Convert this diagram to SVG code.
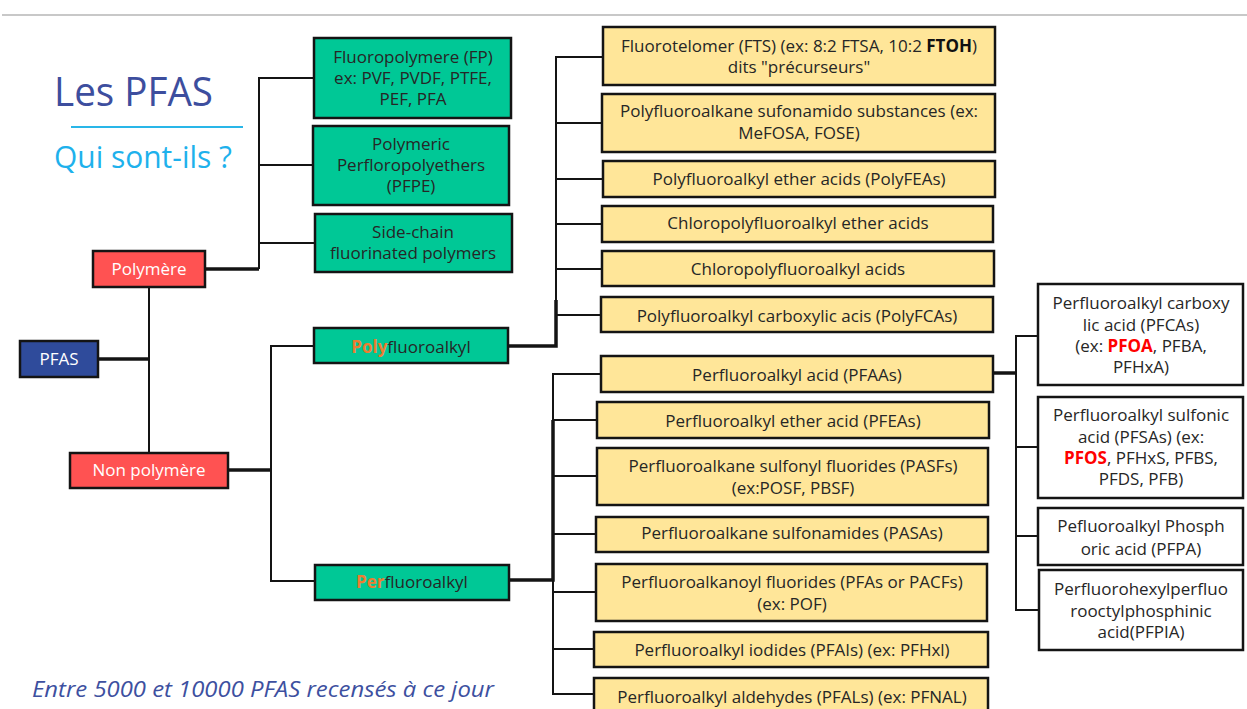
<svg xmlns="http://www.w3.org/2000/svg" width="1247" height="709" viewBox="0 0 1247 709">
<style>
.box{stroke:#141414;stroke-width:2.5}
.yel{fill:#FFE699}
.grn{fill:#00C896}
.red{fill:#FF5252}
.blu{fill:#2F4B9B}
.wht{fill:#FFFFFF}
.t{font-family:"Open Sans","Liberation Sans",sans-serif;font-size:17px;fill:#262626;text-anchor:middle}
.tw{fill:#FFFFFF}
.or{fill:#ED7D31;font-weight:bold}
.rb{fill:#FF0000;font-weight:bold}
.b{font-weight:bold;fill:#111}
.c{fill:none;stroke:#141414;stroke-width:2}
.ck{fill:none;stroke:#141414;stroke-width:3.5}
</style>
<rect width="1247" height="709" fill="#FFFFFF"/>
<line x1="2" y1="15" x2="1247" y2="15" stroke="#C8C8C8" stroke-width="2"/>
<g id="title">
<text x="54" y="106" font-family="'Open Sans','Liberation Sans',sans-serif" font-size="41" fill="#3D4E9E" textLength="159" lengthAdjust="spacingAndGlyphs">Les PFAS</text>
<line x1="71" y1="127" x2="243" y2="127" stroke="#29B6E8" stroke-width="2"/>
<text x="54" y="168" font-family="'Open Sans','Liberation Sans',sans-serif" font-size="31" fill="#1EB1EC" textLength="178" lengthAdjust="spacingAndGlyphs">Qui sont-ils ?</text>
</g>
<g id="footnote">
<text x="32" y="697" font-family="'Open Sans','Liberation Sans',sans-serif" font-style="italic" font-size="21" fill="#3D50A0" textLength="462" lengthAdjust="spacingAndGlyphs">Entre 5000 et 10000 PFAS recensés à ce jour</text>
</g>
<g id="connectors">
<path class="c" d="M149 287V453"/>
<path class="ck" d="M98 359H149"/>
<path class="ck" d="M205 269H259"/>
<path class="c" d="M314 78H259V269M259 165H313M259 243H315"/>
<path class="ck" d="M228 470H271"/>
<path class="c" d="M314 346H271V581H315"/>
<path class="ck" d="M508 346H556V300"/>
<path class="c" d="M603 57H556V346M556 123H602M556 179H603M556 224H602M556 269H602M556 315H601"/>
<path class="ck" d="M509 580H553V420"/>
<path class="c" d="M601 374H553V694H594M553 420H597M553 476H597M553 534H596M553 592H596M553 649H594"/>
<path class="ck" d="M993 373H1016"/>
<path class="c" d="M1038 336H1016V610H1039M1016 447H1038M1016 536H1038"/>
</g>
<g id="n-pfas"><rect class="box blu" x="20" y="341" width="78" height="36"/><text class="t tw" x="59" y="365">PFAS</text></g>
<g id="n-polymere"><rect class="box red" x="93" y="251" width="112" height="36"/><text class="t tw" x="149" y="275">Polymère</text></g>
<g id="n-nonpolymere"><rect class="box red" x="70" y="453" width="158" height="35"/><text class="t tw" x="149" y="476">Non polymère</text></g>
<g id="n-fp"><rect class="box grn" x="314" y="38" width="197" height="80"/><text class="t" x="413" y="63">Fluoropolymere (FP)</text><text class="t" x="413" y="84">ex: PVF, PVDF, PTFE,</text><text class="t" x="413" y="105">PEF, PFA</text></g>
<g id="n-pfpe"><rect class="box grn" x="313" y="126" width="196" height="79"/><text class="t" x="411" y="150">Polymeric</text><text class="t" x="411" y="171">Perfloropolyethers</text><text class="t" x="411" y="192">(PFPE)</text></g>
<g id="n-sidechain"><rect class="box grn" x="315" y="214" width="197" height="58"/><text class="t" x="413" y="238">Side-chain</text><text class="t" x="413" y="259">fluorinated polymers</text></g>
<g id="n-polyfluoroalkyl"><rect class="box grn" x="314" y="328" width="194" height="35"/><text class="t" x="411" y="353"><tspan class="or">Poly</tspan>fluoroalkyl</text></g>
<g id="n-perfluoroalkyl"><rect class="box grn" x="315" y="565" width="194" height="35"/><text class="t" x="412" y="588"><tspan class="or">Per</tspan>fluoroalkyl</text></g>
<g id="n-fts"><rect class="box yel" x="603" y="27" width="392" height="58"/><text class="t" x="799" y="52">Fluorotelomer (FTS) (ex: 8:2 FTSA, 10:2 <tspan class="b">FTOH</tspan>)</text><text class="t" x="799" y="73">dits "précurseurs"</text></g>
<g id="n-sufonamido"><rect class="box yel" x="602" y="94" width="393" height="58"/><text class="t" x="799" y="117">Polyfluoroalkane sufonamido substances (ex:</text><text class="t" x="799" y="139">MeFOSA, FOSE)</text></g>
<g id="n-polyfeas"><rect class="box yel" x="603" y="161" width="392" height="36"/><text class="t" x="799" y="185">Polyfluoroalkyl ether acids (PolyFEAs)</text></g>
<g id="n-chloroether"><rect class="box yel" x="602" y="206" width="391" height="36"/><text class="t" x="798" y="229">Chloropolyfluoroalkyl ether acids</text></g>
<g id="n-chloroacids"><rect class="box yel" x="602" y="251" width="392" height="35"/><text class="t" x="798" y="275">Chloropolyfluoroalkyl acids</text></g>
<g id="n-polyfcas"><rect class="box yel" x="601" y="297" width="392" height="35"/><text class="t" x="797" y="322">Polyfluoroalkyl carboxylic acis (PolyFCAs)</text></g>
<g id="n-pfaas"><rect class="box yel" x="601" y="356" width="392" height="36"/><text class="t" x="797" y="381">Perfluoroalkyl acid (PFAAs)</text></g>
<g id="n-pfeas"><rect class="box yel" x="597" y="402" width="392" height="36"/><text class="t" x="793" y="427">Perfluoroalkyl ether acid (PFEAs)</text></g>
<g id="n-pasfs"><rect class="box yel" x="597" y="448" width="391" height="57"/><text class="t" x="793" y="472">Perfluoroalkane sulfonyl fluorides (PASFs)</text><text class="t" x="793" y="494">(ex:POSF, PBSF)</text></g>
<g id="n-pasas"><rect class="box yel" x="596" y="517" width="392" height="35"/><text class="t" x="792" y="539">Perfluoroalkane sulfonamides (PASAs)</text></g>
<g id="n-pacfs"><rect class="box yel" x="596" y="564" width="391" height="57"/><text class="t" x="792" y="588">Perfluoroalkanoyl fluorides (PFAs or PACFs)</text><text class="t" x="792" y="610">(ex: POF)</text></g>
<g id="n-pfais"><rect class="box yel" x="594" y="632" width="394" height="35"/><text class="t" x="792" y="656">Perfluoroalkyl iodides (PFAIs) (ex: PFHxl)</text></g>
<g id="n-pfals"><rect class="box yel" x="594" y="678" width="394" height="40"/><text class="t" x="792" y="703">Perfluoroalkyl aldehydes (PFALs) (ex: PFNAL)</text></g>
<g id="n-pfcas"><rect class="box wht" x="1038" y="284" width="205" height="101"/><text class="t" x="1141" y="309">Perfluoroalkyl carboxy</text><text class="t" x="1141" y="331">lic acid (PFCAs)</text><text class="t" x="1141" y="352">(ex: <tspan class="rb">PFOA</tspan>, PFBA,</text><text class="t" x="1141" y="373">PFHxA)</text></g>
<g id="n-pfsas"><rect class="box wht" x="1038" y="397" width="205" height="101"/><text class="t" x="1141" y="421">Perfluoroalkyl sulfonic</text><text class="t" x="1141" y="443">acid (PFSAs) (ex:</text><text class="t" x="1141" y="464"><tspan class="rb">PFOS</tspan>, PFHxS, PFBS,</text><text class="t" x="1141" y="485">PFDS, PFB)</text></g>
<g id="n-pfpa"><rect class="box wht" x="1038" y="508" width="205" height="57"/><text class="t" x="1141" y="532">Pefluoroalkyl Phosph</text><text class="t" x="1141" y="555">oric acid (PFPA)</text></g>
<g id="n-pfpia"><rect class="box wht" x="1039" y="570" width="204" height="80"/><text class="t" x="1141" y="595">Perfluorohexylperfluo</text><text class="t" x="1141" y="617">rooctylphosphinic</text><text class="t" x="1141" y="638">acid(PFPIA)</text></g>
</svg>
